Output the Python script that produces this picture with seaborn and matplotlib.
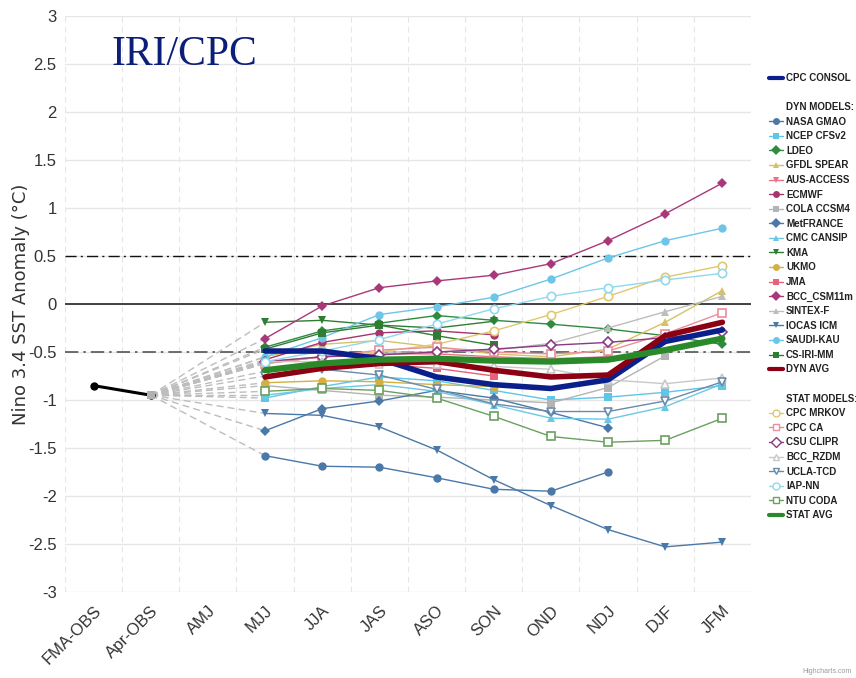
import numpy as np
import pandas as pd
import matplotlib
matplotlib.use("Agg")
import matplotlib.pyplot as plt
from matplotlib.lines import Line2D
import seaborn as sns

nan = np.nan

# categories
seasons = ["FMA-OBS", "Apr-OBS", "AMJ", "MJJ", "JJA", "JAS", "ASO",
           "SON", "OND", "NDJ", "DJF", "JFM"]
obs_values = [-0.85, -0.95]
# forecasts start at MJJ (index 3)

cpc_consol = [-0.49, -0.49, -0.57, -0.76, -0.84, -0.88, -0.79, -0.39, -0.27]

nasa_gmao = [-1.58, -1.69, -1.70, -1.81, -1.93, -1.95, -1.75, nan, nan]
ncep_cfsv2 = [-0.98, -0.86, -0.76, -0.80, -0.90, -1.00, -0.97, -0.92, -0.85]
ldeo = [-0.45, -0.28, -0.20, -0.12, -0.17, -0.21, -0.26, -0.33, -0.42]
gfdl_spear = [-0.55, -0.42, -0.38, -0.45, -0.52, -0.55, -0.47, -0.19, 0.14]
aus_access = [-0.62, -0.55, -0.52, -0.52, -0.55, -0.57, -0.55, nan, nan]
ecmwf = [-0.58, -0.40, -0.30, -0.28, -0.32, nan, nan, nan, nan]
cola_ccsm4 = [-0.85, -0.90, -0.95, -0.97, -1.00, -1.03, -0.87, -0.54, nan]
metfrance = [-1.32, -1.09, -1.01, -0.90, -0.98, -1.13, -1.29, nan, nan]
cmc_cansip = [-0.95, -0.88, -0.84, -0.91, -1.05, -1.19, -1.20, -1.07, -0.83]
kma = [-0.19, -0.17, -0.22, -0.25, -0.18, nan, nan, nan, nan]
ukmo = [-0.82, -0.80, -0.81, -0.84, -0.86, nan, nan, nan, nan]
jma = [-0.70, -0.65, -0.63, -0.67, -0.75, nan, nan, nan, nan]
bcc_csm11m = [-0.36, -0.02, 0.17, 0.24, 0.30, 0.42, 0.66, 0.94, 1.26]
sintex_f = [-0.60, -0.55, -0.50, -0.50, -0.48, -0.41, -0.25, -0.08, 0.08]
iocas_icm = [-1.14, -1.16, -1.28, -1.52, -1.83, -2.10, -2.35, -2.53, -2.48]
saudi_kau = [-0.55, -0.35, -0.11, -0.03, 0.07, 0.26, 0.48, 0.66, 0.79]
cs_iri_mm = [-0.47, -0.30, -0.22, -0.33, -0.43, nan, nan, nan, nan]
dyn_avg = [-0.76, -0.67, -0.62, -0.60, -0.69, -0.76, -0.74, -0.33, -0.19]

cpc_mrkov = [-0.62, -0.55, -0.50, -0.42, -0.28, -0.11, 0.08, 0.28, 0.40]
cpc_ca = [-0.62, -0.55, -0.48, -0.45, -0.50, -0.52, -0.49, -0.31, -0.09]
csu_clipr = [-0.60, -0.55, -0.53, -0.50, -0.47, -0.43, -0.40, -0.35, -0.29]
bcc_rzdm = [-0.60, -0.60, -0.62, -0.63, -0.65, -0.68, -0.79, -0.83, -0.77]
ucla_tcd = [-0.75, -0.68, -0.74, -0.89, -1.04, -1.12, -1.12, -1.01, -0.81]
iap_nn = [-0.60, -0.49, -0.37, -0.21, -0.05, 0.08, 0.17, 0.25, 0.32]
ntu_coda = [-0.91, -0.88, -0.90, -0.98, -1.17, -1.38, -1.44, -1.42, -1.19]
stat_avg = [-0.69, -0.62, -0.58, -0.57, -0.59, -0.60, -0.58, -0.48, -0.36]

# name, values, color, marker, filled
dyn_models = [
    ("NASA GMAO", nasa_gmao, "#4a78a8", "o", True),
    ("NCEP CFSv2", ncep_cfsv2, "#5ec6e6", "s", True),
    ("LDEO", ldeo, "#2e8b40", "D", True),
    ("GFDL SPEAR", gfdl_spear, "#d6c266", "^", True),
    ("AUS-ACCESS", aus_access, "#ec6f88", "v", True),
    ("ECMWF", ecmwf, "#a8346c", "o", True),
    ("COLA CCSM4", cola_ccsm4, "#b4b4b4", "s", True),
    ("MetFRANCE", metfrance, "#4a78a8", "D", True),
    ("CMC CANSIP", cmc_cansip, "#6cc8e2", "^", True),
    ("KMA", kma, "#2f7d32", "v", True),
    ("UKMO", ukmo, "#d4b040", "o", True),
    ("JMA", jma, "#e8607a", "s", True),
    ("BCC_CSM11m", bcc_csm11m, "#a8387a", "D", True),
    ("SINTEX-F", sintex_f, "#bdbdbd", "^", True),
    ("IOCAS ICM", iocas_icm, "#4a78a8", "v", True),
    ("SAUDI-KAU", saudi_kau, "#6cc6e8", "o", True),
    ("CS-IRI-MM", cs_iri_mm, "#2e7d32", "s", True),
]
stat_models = [
    ("CPC MRKOV", cpc_mrkov, "#e0c870", "o", False),
    ("CPC CA", cpc_ca, "#e8909c", "s", False),
    ("CSU CLIPR", csu_clipr, "#8a3a80", "D", False),
    ("BCC_RZDM", bcc_rzdm, "#c8c8c8", "^", False),
    ("UCLA-TCD", ucla_tcd, "#6a8aaa", "v", False),
    ("IAP-NN", iap_nn, "#90d8ec", "o", False),
    ("NTU CODA", ntu_coda, "#6aa060", "s", False),
]

sns.set_style("white")
plt.rcParams["font.family"] = ["Liberation Sans", "DejaVu Sans"]

fig = plt.figure(figsize=(8.56, 6.78), dpi=100)
ax = fig.add_axes([65 / 856, 1 - 592 / 678, (751 - 65) / 856, (592 - 16) / 678])

x_fc = np.arange(3, 12)
x_obs = np.arange(0, 2)

# grid
for yv in np.arange(-3, 3.01, 0.5):
    ax.axhline(yv, color="#e6e6e6", lw=1, zorder=0)
for xv in np.arange(-0.5, 12, 1):
    ax.axvline(xv, color="#e6e6e6", lw=0.8, ls=(0, (5, 4)), zorder=0)
ax.axhline(0, color="#333333", lw=1.3, zorder=1)
ax.axhline(0.5, color="#111111", lw=1, ls=(0, (8, 3, 1.5, 3)), zorder=1)
ax.axhline(-0.5, color="#555555", lw=1.2, ls=(0, (8, 3, 1.5, 3)), zorder=1)

# dashed connectors from last observation to the first forecast
for name, vals, col, mk, filled in dyn_models + stat_models:
    ax.plot([1, 3], [obs_values[1], vals[0]], color="#bdbdbd", lw=1,
            ls=(0, (5, 3)), zorder=1.5)

# observations
sns.lineplot(x=x_obs, y=obs_values, ax=ax, color="black", lw=2.2,
             marker="o", markersize=6, markeredgewidth=0, zorder=4)
ax.plot([1], [obs_values[1]], marker="s", color="#b0b0b0", markersize=6,
        markeredgewidth=0, zorder=4)


def draw_model(vals, col, mk, filled, z):
    df = pd.DataFrame({"x": x_fc, "y": vals}).dropna()
    sns.lineplot(data=df, x="x", y="y", ax=ax, color=col, lw=1,
                 marker=mk, markersize=6 if mk != "D" else 5,
                 markerfacecolor=col if filled else "white",
                 markeredgecolor=col, markeredgewidth=0 if filled else 1.2,
                 zorder=z)


for name, vals, col, mk, filled in dyn_models:
    draw_model(vals, col, mk, filled, 2)
for name, vals, col, mk, filled in stat_models:
    draw_model(vals, col, mk, filled, 2.2)

sns.lineplot(x=x_fc, y=cpc_consol, ax=ax, color="#0a1f8a", lw=4, zorder=3)
sns.lineplot(x=x_fc, y=dyn_avg, ax=ax, color="#8b0012", lw=4, zorder=3.1)
sns.lineplot(x=x_fc, y=stat_avg, ax=ax, color="#2a8a2a", lw=4.5, zorder=3.2)

ax.set_xlim(-0.5, 11.5)
ax.set_ylim(-3, 3)
ax.set_yticks(np.arange(-3, 3.01, 0.5))
ax.set_yticklabels([f"{v:g}" for v in np.arange(-3, 3.01, 0.5)])
ax.set_xticks(np.arange(12))
ax.set_xticklabels(seasons, rotation=45, ha="right", va="top",
                   rotation_mode="anchor")
ax.tick_params(axis="both", length=0, labelsize=12, colors="#333333")
ax.tick_params(axis="y", pad=6)
ax.tick_params(axis="x", pad=8)
for s in ax.spines.values():
    s.set_visible(False)
ax.set_xlabel("")
ax.set_ylabel("Nino 3.4 SST Anomaly (°C)", fontsize=13, color="#333333",
              family=["DejaVu Sans"])
ax.yaxis.set_label_coords(-0.051, 0.5)

ax.text(0.0685, 0.915, "IRI/CPC", transform=ax.transAxes, fontsize=30,
        color="#0c1e78", family=["Liberation Serif", "DejaVu Serif"],
        va="baseline", ha="left")

# legend
blank = Line2D([], [], color="none")
handles = [Line2D([], [], color="#0a1f8a", lw=3), blank, blank]
labels = ["CPC CONSOL", "", "DYN MODELS:"]
for name, vals, col, mk, filled in dyn_models:
    handles.append(Line2D([], [], color=col, lw=1, marker=mk, markersize=5,
                          markerfacecolor=col, markeredgewidth=0))
    labels.append(name)
handles += [Line2D([], [], color="#8b0012", lw=3), blank, blank]
labels += ["DYN AVG", "", "STAT MODELS:"]
for name, vals, col, mk, filled in stat_models:
    handles.append(Line2D([], [], color=col, lw=1, marker=mk, markersize=5,
                          markerfacecolor="white", markeredgecolor=col,
                          markeredgewidth=1))
    labels.append(name)
handles.append(Line2D([], [], color="#2a8a2a", lw=3))
labels.append("STAT AVG")

leg = fig.legend(handles, labels, loc="upper left",
                 bbox_to_anchor=(769 / 856, 1 - 73 / 678), frameon=False,
                 handlelength=1.4, handletextpad=0.35, labelspacing=0.47,
                 borderaxespad=0, borderpad=0,
                 prop={"family": ["Liberation Sans"],
                       "weight": "bold", "size": 7})
for t in leg.get_texts():
    t.set_color("#222222")

fig.text(0.995, 0.005, "Highcharts.com", fontsize=5, color="#999999",
         ha="right", va="bottom")

fig.savefig("out.png", dpi=100)
